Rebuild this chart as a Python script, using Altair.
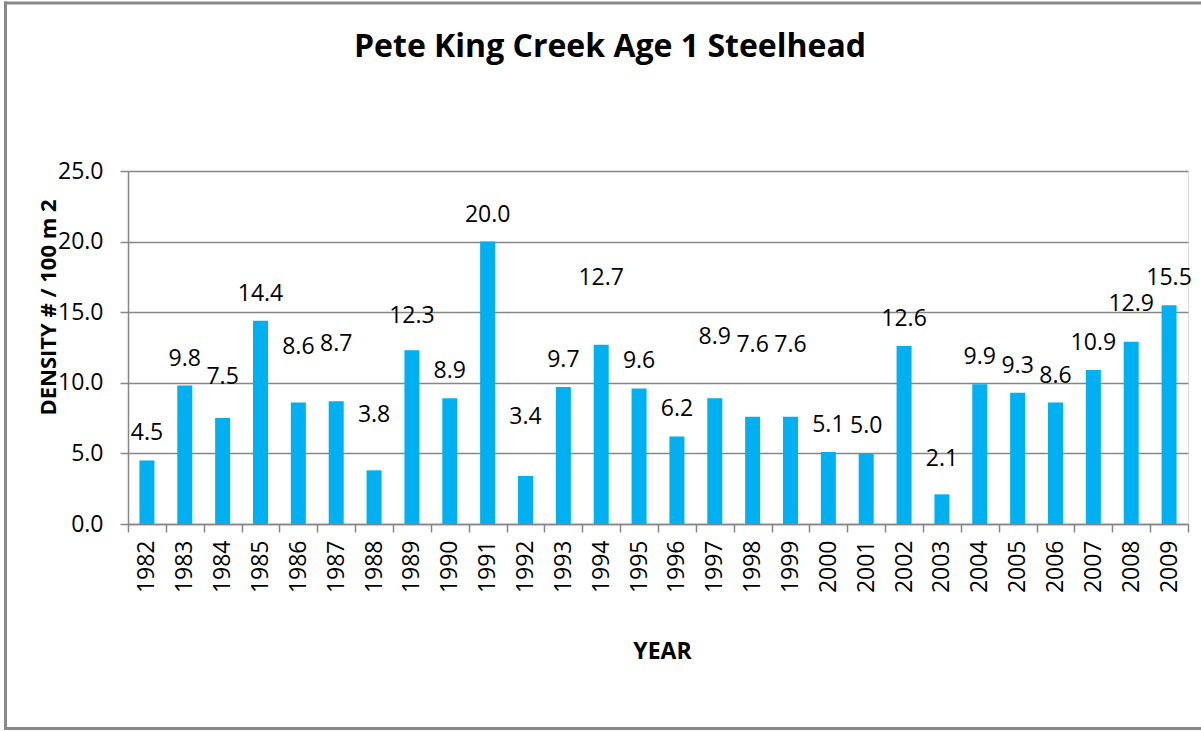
import altair as alt
import pandas as pd

# Age-1 steelhead density by survey year
years = [str(y) for y in range(1982, 2010)]
density = [4.5, 9.8, 7.5, 14.4, 8.6, 8.7, 3.8, 12.3, 8.9, 20.0, 3.4, 9.7, 12.7, 9.6,
           6.2, 8.9, 7.6, 7.6, 5.1, 5.0, 12.6, 2.1, 9.9, 9.3, 8.6, 10.9, 12.9, 15.5]

# extra upward shift (px) for value labels that were dragged clear of the bars
label_lift = {"1984": 14, "1986": 29, "1987": 30, "1988": 28, "1989": 7, "1992": 32,
              "1994": 40, "1997": 34, "1998": 45, "1999": 45, "2003": 8, "2008": 11}

df = pd.DataFrame({"year": years, "density": density})
df["lift"] = [label_lift.get(y, 0) for y in years]

FONT = "Open Sans"
GRAY = "#868686"
W, H = 1060, 353
Y_MAX = 25
LEFT, TOP = 128, 171
TOTAL_W, TOTAL_H = 1201, 731

x_enc = alt.X(
    "year:N",
    sort=years,
    scale=alt.Scale(paddingInner=0, paddingOuter=0),
    axis=alt.Axis(
        title="YEAR",
        titleFont=FONT, titleFontSize=23, titleFontWeight="bold", titleColor="black",
        titleX=534, titleY=127, titleAlign="center", titleBaseline="middle",
        labelAngle=270, labelFont=FONT, labelFontSize=23, labelColor="black",
        labelPadding=8, tickBand="extent", tickSize=8, tickColor=GRAY,
        domainColor=GRAY, domainWidth=1.5, tickWidth=1.5, grid=False,
    ),
)

y_enc = alt.Y(
    "density:Q",
    scale=alt.Scale(domain=[0, Y_MAX], nice=False),
    axis=alt.Axis(
        title="DENSITY # / 100 m 2",
        titleFont=FONT, titleFontSize=22, titleFontWeight="bold", titleColor="black",
        titleAngle=270, titleX=-80, titleY=136, titleAlign="center", titleBaseline="middle",
        values=[0, 5, 10, 15, 20, 25], format=".1f",
        labelFont=FONT, labelFontSize=23, labelColor="black", labelPadding=17,
        tickSize=8, tickColor=GRAY, tickWidth=1.5,
        domainColor=GRAY, domainWidth=1.5,
        grid=True, gridColor=GRAY, gridWidth=1.5,
    ),
)

bars = alt.Chart(df).mark_bar(color="#00B0F0", size=15).encode(x=x_enc, y=y_enc)

# value labels sit above each bar; lifted ones are shifted by their pixel amount
labels = alt.Chart(df).transform_calculate(
    label_pos=f"datum.density + datum.lift * {Y_MAX} / {H}"
).mark_text(
    font=FONT, fontSize=23, color="black", baseline="middle", align="center", dy=-27
).encode(
    x=alt.X("year:N", sort=years),
    y=alt.Y("label_pos:Q"),
    text=alt.Text("density:Q", format=".1f"),
)

# chart title, placed in the band above the plot
title = alt.Chart(df.head(1)).mark_text(
    font=FONT, fontSize=32, fontWeight="bold", color="black",
    align="center", baseline="middle", clip=False,
).encode(
    x=alt.value(610 - LEFT), y=alt.value(47 - TOP),
    text=alt.value("Pete King Creek Age 1 Steelhead"),
)

# outer chart border: left, top and bottom edges (the right edge runs off the page)
border = alt.Chart(df.head(1)).mark_rule(color="#898989", strokeWidth=3, clip=False)
border_left = border.encode(
    x=alt.value(5.5 - LEFT), y=alt.value(1.5 - TOP), y2=alt.value(729.5 - TOP)
)
border_top = border.encode(
    x=alt.value(4 - LEFT), x2=alt.value(TOTAL_W - LEFT), y=alt.value(3 - TOP)
)
border_bottom = border.encode(
    x=alt.value(4 - LEFT), x2=alt.value(TOTAL_W - LEFT), y=alt.value(728.5 - TOP)
)

chart = alt.layer(bars, labels, title, border_left, border_top, border_bottom).properties(
    width=W, height=H,
    padding={"left": LEFT, "top": TOP, "right": TOTAL_W - LEFT - W,
             "bottom": TOTAL_H - TOP - H},
    autosize=alt.AutoSizeParams(type="none"),
).configure_view(
    fill="#C0C0C0", stroke=None,
).configure(background="white")

chart.save("out.html", embed_options={"renderer": "svg", "actions": False})
